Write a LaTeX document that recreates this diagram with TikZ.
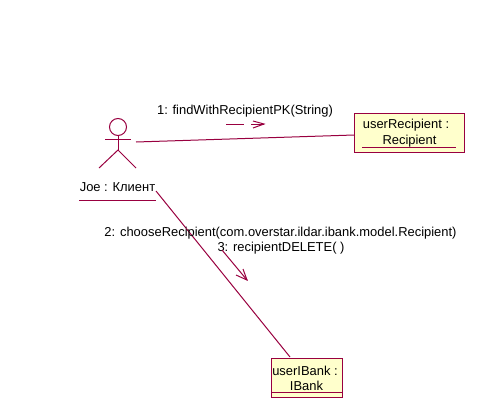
\documentclass[tikz,border=0pt]{standalone}
\usepackage{fontspec}
\setmainfont{Liberation Sans}
\definecolor{umlline}{HTML}{990040}
\definecolor{umlfill}{HTML}{FFFFCC}
\tikzset{
  px/.style={x=0.75pt,y=-0.75pt},
  wire/.style={draw=umlline,line width=0.75pt},
  objbox/.style={draw=umlline,fill=umlfill,line width=1.1pt,inner sep=0pt,anchor=north west},
  lab/.style={inner sep=0pt,font=\fontsize{9.7}{11.6}\selectfont,text=black},
  head/.style={circle,draw=umlline,line width=0.75pt,minimum size=12.75pt,inner sep=0pt}
}
\begin{document}
\begin{tikzpicture}[px]
\useasboundingbox[fill=white] (0,0) rectangle (488,418);
% objects
\node[objbox,minimum width=82.5pt,minimum height=29.25pt] (recip) at (354,113) {};
\node[objbox,minimum width=53.25pt,minimum height=29.25pt] (ibank) at (271,358) {};
\node[lab] (recipA) at (406,125) {userRecipient :};
\node[lab] (recipB) at (409.5,141) {Recipient};
\node[lab] (ibankA) at (305,371) {userIBank :};
\node[lab] (ibankB) at (306.5,386) {IBank};
\coordinate (ru1) at (362,147); \coordinate (ru2) at (456,147);
\coordinate (iu1) at (271,392); \coordinate (iu2) at (343,392);
\draw[wire] (ru1) -- (ru2);
\draw[wire] (iu1) -- (iu2);
% actor
\node[head] (actorhead) at (118,127) {};
\coordinate (armL) at (105,139); \coordinate (armR) at (131,139);
\coordinate (hip) at (118,150);
\coordinate (legL) at (99,168); \coordinate (legR) at (136,168);
\draw[wire] (actorhead.south) -- (hip);
\draw[wire] (armL) -- (armR);
\draw[wire] (legL) -- (hip) -- (legR);
\node[lab] (actorlab) at (117.5,187) {Joe : Клиент};
\coordinate (au1) at (79,200); \coordinate (au2) at (156,200);
\draw[wire] (au1) -- (au2);
% links
\coordinate (l1s) at (136,142); \coordinate (l1e) at (354,135);
\draw[wire] (l1s) -- (l1e);
\coordinate (l2s) at (156,191); \coordinate (l2e) at (290,357);
\draw[wire] (l2s) -- (l2e);
% message labels
\node[lab] (m1) at (245,111) {1: findWithRecipientPK(String)};
\node[lab] (m2) at (280.5,233) {2: chooseRecipient(com.overstar.ildar.ibank.model.Recipient)};
\node[lab] (m3) at (281,248) {3: recipientDELETE( )};
% message 1 arrow
\coordinate (d1) at (226,124); \coordinate (d2) at (244,124);
\coordinate (a1) at (251,124); \coordinate (a2) at (264,124);
\coordinate (h1) at (253,121); \coordinate (h2) at (253,128);
\draw[wire] (d1) -- (d2);
\draw[wire] (a1) -- (a2);
\draw[wire] (h1) -- (a2) -- (h2);
% message 3 arrow
\coordinate (b1) at (222,250); \coordinate (b2) at (247,280);
\coordinate (k1) at (236,275); \coordinate (k2) at (243,269);
\draw[wire] (b1) -- (b2);
\draw[wire] (k1) -- (b2) -- (k2);
\end{tikzpicture}
\end{document}
